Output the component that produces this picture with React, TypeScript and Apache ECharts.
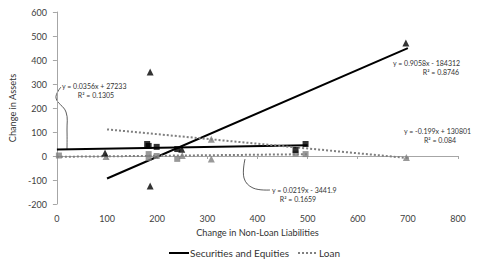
import React, { useEffect, useRef } from "react";
import * as echarts from "echarts";

// Data (thousands)
const secTriangles: [number, number][] = [[96, 12], [186, 350], [186, -125], [249, 28], [696, 471]];
const loanTriangles: [number, number][] = [[98, -2], [250, 2], [308, 70], [308, -12], [697, -6]];
const secSquares: [number, number][] = [[180, 50], [183, 42], [199, 38], [240, 29], [476, 25], [496, 50]];
const loanSquares: [number, number][] = [[4, 2], [183, 8], [183, -8], [199, 0], [240, -12], [476, 10], [496, 8]];

// Trend lines from displayed equations (converted to thousands)
const trendNames = ["Securities and Equities", "Securities and Equities", "Loan", "Loan"];
const trendSlopes = [0.9058, 0.0356, -0.199, 0.0219];
const trendIntercepts = [-184.312, 27.233, 130.801, -3.4419];
const trendFrom = [100, 0, 100, 0];
const trendTo = [700, 500, 700, 500];

const xTicks = [0, 800, 100];
const yTicks = [-200, 600, 100];

const FONT = "Lato";

export default function App() {
  const ref = useRef<HTMLDivElement>(null);
  useEffect(() => {
    const chart = echarts.init(ref.current!, null, { renderer: "svg" });
    const trendSeries = trendSlopes.map((s, i) => {
      const solid = trendNames[i] !== "Loan";
      return {
        type: "line",
        name: trendNames[i],
        symbol: "none",
        xAxisIndex: 0,
        data: [
          [trendFrom[i], s * trendFrom[i] + trendIntercepts[i]],
          [trendTo[i], s * trendTo[i] + trendIntercepts[i]],
        ],
        lineStyle: solid
          ? { color: "#000", width: 2, type: "solid" }
          : { color: "#7f7f7f", width: 2, type: "dotted" },
        itemStyle: { color: solid ? "#000" : "#7f7f7f" },
        z: 3,
      };
    });
    const scatter = (data: [number, number][], symbol: string, color: string, size: number) => ({
      type: "scatter",
      symbol,
      symbolSize: size,
      data,
      itemStyle: { color },
      z: 4,
    });
    const eqStyle = { fontFamily: FONT, fontSize: 7, fill: "#333" };
    chart.setOption({
      animation: false,
      grid: { left: 53, right: 22, top: 12, bottom: 62 },
      textStyle: { fontFamily: FONT },
      legend: {
        data: ["Securities and Equities", "Loan"],
        bottom: 3,
        left: 163,
        itemWidth: 20,
        itemHeight: 8,
        itemGap: 8,
        itemStyle: { opacity: 0 },
        textStyle: { fontFamily: FONT, fontSize: 10, color: "#333", padding: [0, 0, 0, -4] },
      },
      xAxis: [
        {
          type: "value",
          min: xTicks[0],
          max: xTicks[1],
          interval: xTicks[2],
          name: "Change in Non-Loan Liabilities",
          nameLocation: "middle",
          nameGap: 24,
          nameTextStyle: { fontFamily: FONT, fontSize: 9.2, color: "#333" },
          axisLine: { show: false, onZero: false },
          axisTick: { show: false },
          splitLine: { show: false },
          axisLabel: { fontFamily: FONT, fontSize: 9, color: "#404040", margin: 10 },
        },
        {
          type: "value",
          min: xTicks[0],
          max: xTicks[1],
          interval: xTicks[2],
          position: "bottom",
          axisLine: { show: true, onZero: true, lineStyle: { color: "#a6a6a6", width: 1 } },
          axisTick: { show: true, length: 3, lineStyle: { color: "#a6a6a6" } },
          axisLabel: { show: false },
          splitLine: { show: false },
        },
      ],
      yAxis: {
        type: "value",
        min: yTicks[0],
        max: yTicks[1],
        interval: yTicks[2],
        name: "Change in Assets",
        nameLocation: "middle",
        nameGap: 34,
        nameTextStyle: { fontFamily: FONT, fontSize: 9.2, color: "#333" },
        axisLine: { show: true, lineStyle: { color: "#a6a6a6" } },
        axisTick: { show: true, length: 4, lineStyle: { color: "#a6a6a6" } },
        splitLine: { show: false },
        axisLabel: { fontFamily: FONT, fontSize: 9, color: "#404040", margin: 10 },
      },
      series: [
        ...trendSeries,
        scatter(loanSquares, "rect", "#7f7f7f", 6),
        scatter(secSquares, "rect", "#000", 6),
        scatter(loanTriangles, "triangle", "#7f7f7f", 7),
        scatter(secTriangles, "triangle", "#000", 7),
      ],
      graphic: [
        { type: "text", x: 62, y: 82, style: { ...eqStyle, text: "y = 0.0356x + 27233" } },
        { type: "text", x: 96, y: 91, style: { ...eqStyle, text: "R² = 0.1305", textAlign: "center" } },
        {
          type: "polyline",
          shape: { points: [[61, 87], [56, 98], [66, 112], [67, 130], [67, 149]], smooth: 0.4 },
          style: { stroke: "#333", lineWidth: 0.8, fill: null },
        },
        { type: "text", x: 393, y: 59, style: { ...eqStyle, text: "y = 0.9058x - 184312" } },
        { type: "text", x: 441, y: 68, style: { ...eqStyle, text: "R² = 0.8746", textAlign: "center" } },
        { type: "text", x: 404, y: 127, style: { ...eqStyle, text: "y = -0.199x + 130801" } },
        { type: "text", x: 440, y: 136, style: { ...eqStyle, text: "R² = 0.084", textAlign: "center" } },
        { type: "text", x: 272, y: 186, style: { ...eqStyle, text: "y = 0.0219x - 3441.9" } },
        { type: "text", x: 298, y: 195, style: { ...eqStyle, text: "R² = 0.1659", textAlign: "center" } },
        {
          type: "polyline",
          shape: { points: [[270, 190], [253, 188], [244, 178], [245, 159]], smooth: 0.4 },
          style: { stroke: "#333", lineWidth: 0.8, fill: null },
        },
      ],
    });
    return () => chart.dispose();
  }, []);
  return <div ref={ref} style={{ width: 480, height: 266, position: "absolute", left: 0, top: 0 }} />;
}
